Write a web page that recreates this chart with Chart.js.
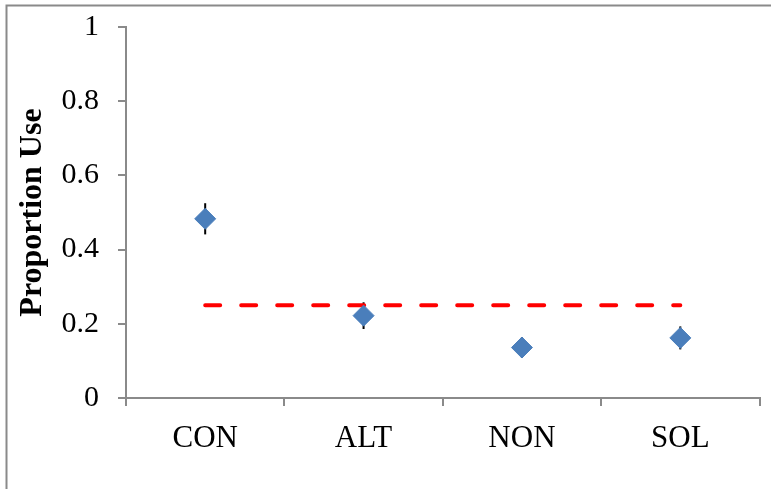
<!DOCTYPE html>
<html>
<head>
<meta charset="utf-8">
<script src="https://cdn.jsdelivr.net/npm/chart.js@4"></script>
<style>
  html, body { margin: 0; padding: 0; background: #fff; }
  #wrap { position: relative; width: 771px; height: 489px; }
</style>
</head>
<body>
<div id="wrap"><canvas id="chart" width="771" height="489"></canvas></div>
<script>
const categories = ['CON', 'ALT', 'NON', 'SOL'];
const proportionUse = [0.483, 0.222, 0.136, 0.162];
const errorMargin = [0.042, 0.036, 0.028, 0.031];
const referenceLine = [0.25, 0.25, 0.25, 0.25];
const yTickValues = [0, 0.2, 0.4, 0.6, 0.8, 1];

const serif = '"Liberation Serif", "Times New Roman", serif';
const axisGray = '#8a8a8a';

// black error bars behind the markers
const errorBars = {
    id: 'errorBars',
    beforeDatasetsDraw(chart) {
        const ctx = chart.ctx;
        const x = chart.scales.x;
        const y = chart.scales.y;
        ctx.save();
        ctx.strokeStyle = '#000';
        ctx.lineWidth = 2;
        proportionUse.forEach((v, i) => {
            const px = x.getPixelForValue(i);
            ctx.beginPath();
            ctx.moveTo(px, y.getPixelForValue(v + errorMargin[i]));
            ctx.lineTo(px, y.getPixelForValue(v - errorMargin[i]));
            ctx.stroke();
        });
        ctx.restore();
    }
};

// outer frame of the chart object (only top and left show)
const frame = {
    id: 'frame',
    afterDraw(chart) {
        const ctx = chart.ctx;
        ctx.save();
        ctx.strokeStyle = axisGray;
        ctx.lineWidth = 2;
        ctx.beginPath();
        ctx.moveTo(6.5, 489);
        ctx.lineTo(6.5, 5.5);
        ctx.lineTo(771, 5.5);
        ctx.stroke();
        ctx.restore();
    }
};

new Chart(document.getElementById('chart'), {
    type: 'line',
    data: {
        labels: categories,
        datasets: [
            {
                label: 'Proportion Use',
                data: proportionUse,
                showLine: false,
                pointStyle: 'rectRot',
                pointRadius: 10.5,
                pointBackgroundColor: '#4a7ebb',
                pointBorderColor: '#4a7ebb',
                pointBorderWidth: 1
            },
            {
                label: 'Reference',
                data: referenceLine,
                borderColor: '#ff0000',
                borderWidth: 4,
                borderDash: [15, 21],
                borderCapStyle: 'round',
                pointRadius: 0,
                fill: false
            }
        ]
    },
    options: {
        responsive: false,
        animation: false,
        layout: { padding: { top: 27, right: 11, left: 0, bottom: 0 } },
        plugins: {
            legend: { display: false },
            tooltip: { enabled: false }
        },
        scales: {
            x: {
                offset: true,
                grid: {
                    offset: true,
                    drawOnChartArea: false,
                    drawTicks: true,
                    tickLength: 8,
                    color: axisGray,
                    lineWidth: 2
                },
                border: { display: true, color: axisGray, width: 2 },
                ticks: {
                    color: '#000',
                    font: { family: serif, size: 31 },
                    padding: 14,
                    maxRotation: 0
                },
                afterFit(scale) {
                    scale.height = 91;
                    scale.paddingLeft = 0;
                    scale.paddingRight = 0;
                }
            },
            y: {
                min: 0,
                max: 1,
                afterBuildTicks(scale) {
                    scale.ticks = yTickValues.map(v => ({ value: v }));
                },
                grid: {
                    drawOnChartArea: false,
                    drawTicks: true,
                    tickLength: 8,
                    color: axisGray,
                    lineWidth: 2
                },
                border: { display: true, color: axisGray, width: 2 },
                ticks: {
                    color: '#000',
                    font: { family: serif, size: 30 },
                    padding: 19,
                    callback: v => String(Math.round(v * 10) / 10)
                },
                title: {
                    display: true,
                    text: 'Proportion Use',
                    color: '#000',
                    font: { family: serif, size: 32, weight: 'bold' },
                    padding: { top: 14, bottom: 0 }
                },
                afterFit(scale) {
                    scale.width = 126;
                    scale.paddingTop = 0;
                    scale.paddingBottom = 0;
                }
            }
        }
    },
    plugins: [errorBars, frame]
});
</script>
</body>
</html>
